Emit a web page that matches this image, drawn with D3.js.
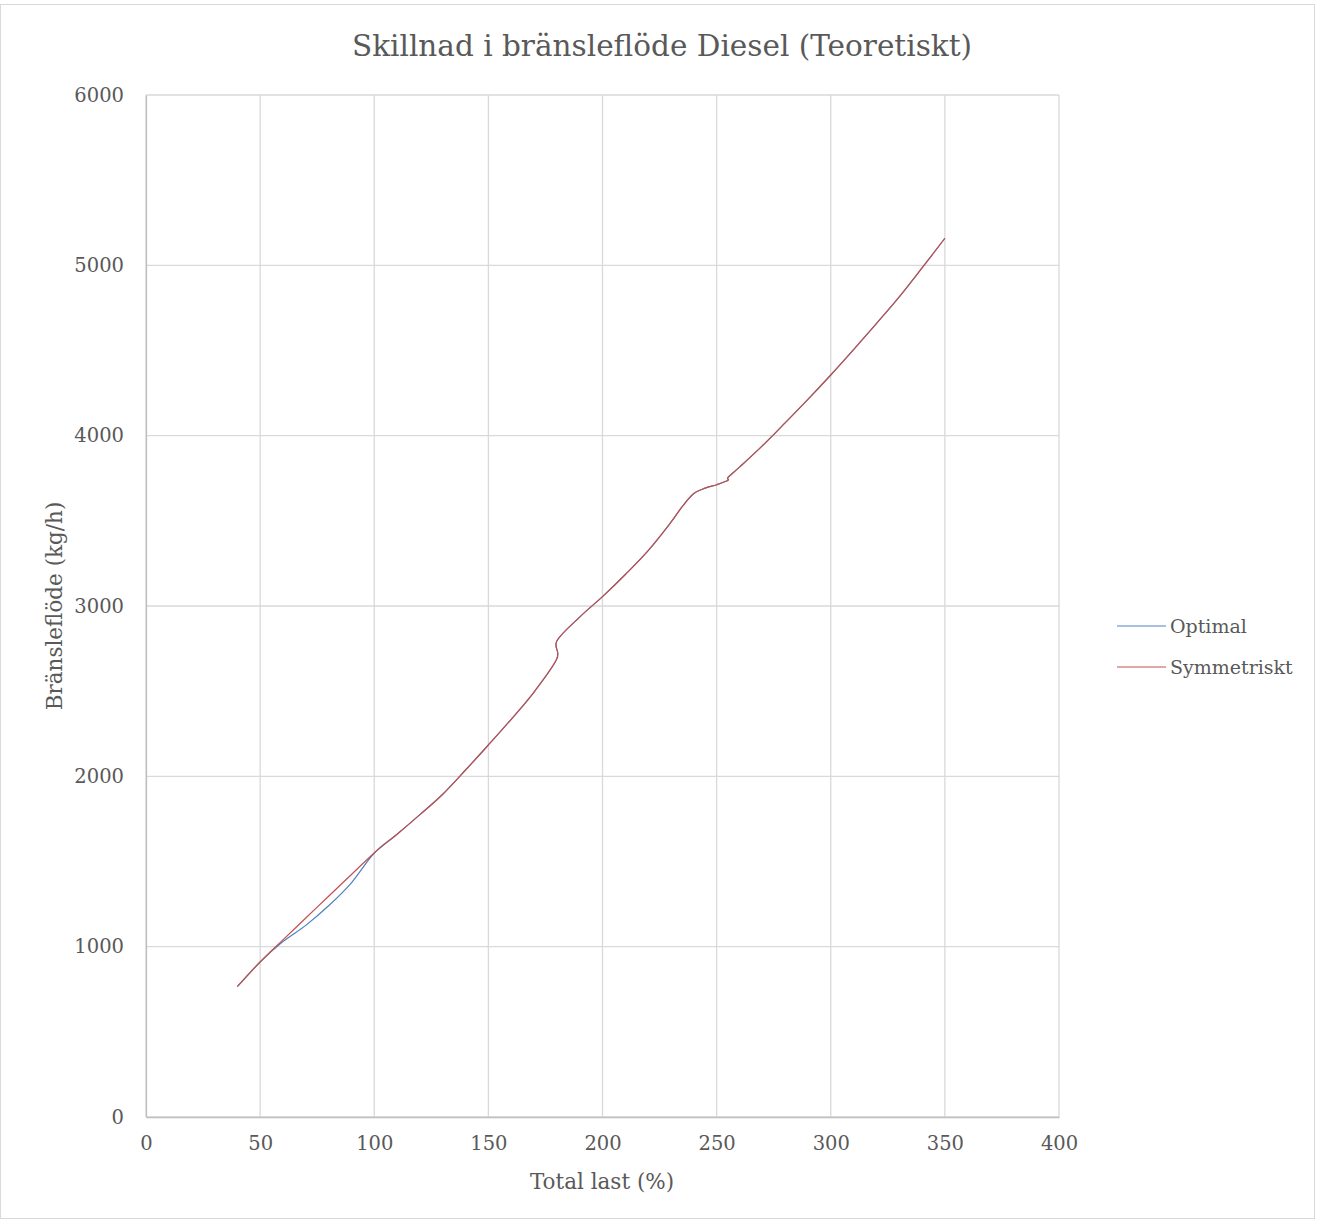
<!DOCTYPE html>
<html>
<head>
<meta charset="utf-8">
<script src="https://cdn.jsdelivr.net/npm/d3@7"></script>
<style>
  html, body { margin: 0; padding: 0; background: #fff; }
  svg { display: block; }
  text { font-family: "DejaVu Serif", "Liberation Serif", serif; fill: #595959; }
</style>
</head>
<body>
<svg id="chart" width="1317" height="1221"></svg>
<script>
// Total last (%) for each operating point
const loadPct = [40, 50, 60, 70, 80, 90, 100, 110, 120, 130, 140, 150, 160, 170, 180, 180,
  190, 200, 210, 220, 230, 235, 240, 245, 250, 255, 255, 260, 270, 280, 290, 300,
  310, 320, 330, 340, 350];

// Fuel flow (kg/h), symmetric load sharing
const symmetriskt = [765, 910, 1040, 1168, 1296, 1424, 1550, 1660, 1775, 1895, 2037, 2184,
  2335, 2495, 2690, 2795, 2935, 3055, 3185, 3325, 3492, 3585, 3660, 3692, 3712, 3738,
  3755, 3815, 3940, 4075, 4213, 4356, 4505, 4658, 4815, 4985, 5159];

// Fuel flow (kg/h), optimal load sharing
const optimal = [765, 910, 1030, 1125, 1240, 1375, 1550, 1660, 1775, 1895, 2037, 2184,
  2335, 2495, 2690, 2795, 2935, 3055, 3185, 3325, 3492, 3585, 3660, 3692, 3712, 3738,
  3755, 3815, 3940, 4075, 4213, 4356, 4505, 4658, 4815, 4985, 5159];

const xTicks = [0, 50, 100, 150, 200, 250, 300, 350, 400];
const yTicks = [0, 1000, 2000, 3000, 4000, 5000, 6000];

const seriesNames = ["Optimal", "Symmetriskt"];
const seriesColors = ["#4F81BD", "#C0504D"];

const svg = d3.select("#chart");
const W = 1317, H = 1221;
const plot = { left: 146, right: 1059, top: 95, bottom: 1117 };

// outer chart frame
svg.append("rect")
  .attr("x", 0.5).attr("y", 4.5)
  .attr("width", W - 3).attr("height", H - 7)
  .attr("fill", "#fff").attr("stroke", "#D9D9D9").attr("stroke-width", 1);

const x = d3.scaleLinear().domain([0, 400]).range([plot.left, plot.right]);
const y = d3.scaleLinear().domain([0, 6000]).range([plot.bottom, plot.top]);

// gridlines
const grid = svg.append("g");
grid.selectAll("line.h").data(yTicks).join("line")
  .attr("x1", plot.left).attr("x2", plot.right)
  .attr("y1", d => y(d)).attr("y2", d => y(d))
  .attr("stroke", "#D9D9D9").attr("stroke-width", 1.3);
grid.selectAll("line.v").data(xTicks).join("line")
  .attr("y1", plot.top).attr("y2", plot.bottom)
  .attr("x1", d => x(d)).attr("x2", d => x(d))
  .attr("stroke", "#D9D9D9").attr("stroke-width", 1.3);

// axes
const xAxis = svg.append("g")
  .attr("transform", `translate(0,${plot.bottom})`)
  .call(d3.axisBottom(x).tickValues(xTicks).tickSize(0).tickPadding(19));
const yAxis = svg.append("g")
  .attr("transform", `translate(${plot.left},0)`)
  .call(d3.axisLeft(y).tickValues(yTicks).tickSize(0).tickPadding(22).tickFormat(d3.format("d")));
[xAxis, yAxis].forEach(g => {
  g.select(".domain").attr("stroke", "#BFBFBF").attr("stroke-width", 1.3);
  g.selectAll("text").attr("font-family", "DejaVu Serif").attr("font-size", 19.5).attr("fill", "#595959");
});

// series lines
const pts = vals => loadPct.map((v, i) => [v, vals[i]]);
const line = d3.line()
  .x(d => x(d[0])).y(d => y(d[1]))
  .curve(d3.curveCardinal.tension(0));

[optimal, symmetriskt].forEach((vals, i) => {
  svg.append("path")
    .datum(pts(vals))
    .attr("d", line)
    .attr("fill", "none")
    .attr("stroke", seriesColors[i])
    .attr("stroke-width", 1.2);
});

// title
svg.append("text")
  .attr("x", 662).attr("y", 56)
  .attr("text-anchor", "middle")
  .attr("font-size", 29.5)
  .text("Skillnad i bränsleflöde Diesel (Teoretiskt)");

// axis titles
svg.append("text")
  .attr("x", 602).attr("y", 1189)
  .attr("text-anchor", "middle")
  .attr("font-size", 21.5)
  .text("Total last (%)");
svg.append("text")
  .attr("transform", `translate(62,606) rotate(-90)`)
  .attr("text-anchor", "middle")
  .attr("font-size", 21.5)
  .text("Bränsleflöde (kg/h)");

// legend
const legend = svg.append("g");
seriesNames.forEach((name, i) => {
  const ly = 626 + i * 41;
  legend.append("line")
    .attr("x1", 1117).attr("x2", 1166)
    .attr("y1", ly).attr("y2", ly)
    .attr("stroke", seriesColors[i]).attr("stroke-width", 1.2);
  legend.append("text")
    .attr("x", 1170).attr("y", ly + 7)
    .attr("font-size", 19)
    .text(name);
});
</script>
</body>
</html>
